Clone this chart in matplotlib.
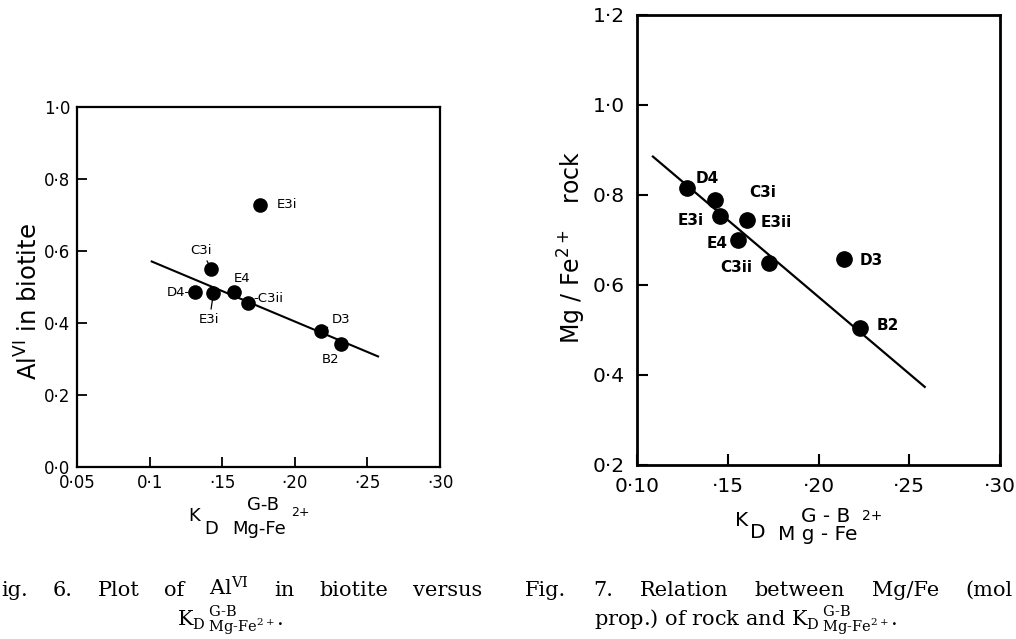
import matplotlib
matplotlib.use('Agg')
import matplotlib.pyplot as plt

# ---------------- data: Fig. 6 ----------------
f6_labels = ['E3i', 'C3i', 'D4', 'E3i', 'E4', 'C3ii', 'D3', 'B2']
f6_kd = [0.176, 0.1426, 0.131, 0.144, 0.158, 0.168, 0.218, 0.2315]
f6_alvi = [0.727, 0.549, 0.486, 0.484, 0.485, 0.456, 0.378, 0.343]
f6_line_kd = [0.1008, 0.258]
f6_line_alvi = [0.572, 0.306]
f6_xticks = [0.05, 0.10, 0.15, 0.20, 0.25, 0.30]
f6_xticklabels = ['0·05', '0·1', '·15', '·20', '·25', '·30']
f6_yticks = [0.0, 0.2, 0.4, 0.6, 0.8, 1.0]
f6_yticklabels = ['0·0', '0·2', '0·4', '0·6', '0·8', '1·0']

# ---------------- data: Fig. 7 ----------------
f7_labels = ['D4', 'C3i', 'E3i', 'E3ii', 'E4', 'C3ii', 'D3', 'B2']
f7_kd = [0.1275, 0.1431, 0.1459, 0.1606, 0.1556, 0.1725, 0.2143, 0.2226]
f7_mgfe = [0.815, 0.789, 0.753, 0.744, 0.701, 0.648, 0.657, 0.504]
f7_line_kd = [0.1083, 0.259]
f7_line_mgfe = [0.887, 0.372]
f7_xticks = [0.10, 0.15, 0.20, 0.25, 0.30]
f7_xticklabels = ['0·10', '·15', '·20', '·25', '·30']
f7_yticks = [0.2, 0.4, 0.6, 0.8, 1.0, 1.2]
f7_yticklabels = ['0·2', '0·4', '0·6', '0·8', '1·0', '1·2']

W, H = 1016, 639
fig = plt.figure(figsize=(W / 100, H / 100), dpi=100)
fig.patch.set_facecolor('white')


def fx(px):
    return px / W


def fy(py):
    return 1 - py / H


def ftext(x, y, s, **kw):
    return fig.text(fx(x), fy(y), s, **kw)


# ---------------- left axes (Fig. 6) ----------------
ax1 = fig.add_axes([fx(77), fy(467), fx(440) - fx(77), fy(107) - fy(467)])
ax1.plot(f6_line_kd, f6_line_alvi, color='black', lw=1.5, solid_capstyle='butt')
ax1.plot(f6_kd, f6_alvi, 'o', color='black', ms=9.5, zorder=3)
ax1.set_xlim(0.05, 0.30)
ax1.set_ylim(0.0, 1.0)
ax1.set_xticks(f6_xticks)
ax1.set_xticklabels(f6_xticklabels)
ax1.set_yticks(f6_yticks)
ax1.set_yticklabels(f6_yticklabels)
ax1.tick_params(direction='in', length=7, width=1.3, labelsize=12, pad=5)
for sp in ax1.spines.values():
    sp.set_linewidth(1.6)

# label placement: (dx, dy) pixel offsets, ha, leader line
f6_offsets = [(27, 1, 'center', False), (-10, 19, 'center', True),
              (-5, 0, 'right', False), (-4, -27, 'center', True),
              (8, 14, 'center', False), (5, 4, 'left', False),
              (20, 11, 'center', True), (-10, -16, 'center', False)]
f6_text = ['E3i', 'C3i', 'D4-', 'E3i', 'E4', '-C3ii', 'D3', 'B2']
for x, y, t, (dx, dy, ha, lead) in zip(f6_kd, f6_alvi, f6_text, f6_offsets):
    kw = {}
    if lead:
        kw['arrowprops'] = dict(arrowstyle='-', lw=0.9, color='black',
                                shrinkA=1, shrinkB=5)
    ax1.annotate(t, (x, y), xytext=(dx, dy), textcoords='offset pixels',
                 ha=ha, va='center', fontsize=9.5, **kw)

ftext(29, 302, r'Al$^{\rm VI}$ in biotite', rotation=90, ha='center',
      va='center', fontsize=17.5)

# x label (left)
ftext(194, 516, 'K', ha='center', va='center', fontsize=13)
ftext(204, 529, 'D', ha='left', va='center', fontsize=13)
ftext(263, 505, 'G-B', ha='center', va='center', fontsize=13)
ftext(232, 529, 'Mg-Fe', ha='left', va='center', fontsize=13)
ftext(291, 513, '2+', ha='left', va='center', fontsize=9)

# ---------------- right axes (Fig. 7) ----------------
ax2 = fig.add_axes([fx(637), fy(465), fx(1000) - fx(637), fy(15) - fy(465)])
ax2.plot(f7_line_kd, f7_line_mgfe, color='black', lw=1.6, solid_capstyle='butt')
ax2.plot(f7_kd, f7_mgfe, 'o', color='black', ms=11, zorder=3)
ax2.set_xlim(0.10, 0.30)
ax2.set_ylim(0.2, 1.2)
ax2.set_xticks(f7_xticks)
ax2.set_xticklabels(f7_xticklabels)
ax2.set_yticks(f7_yticks)
ax2.set_yticklabels(f7_yticklabels)
ax2.tick_params(direction='in', length=8, width=1.5, labelsize=14.5, pad=9)
for sp in ax2.spines.values():
    sp.set_linewidth(2.0)

f7_offsets = [(20, 10), (47, 7), (-30, -4), (29, -2), (-21, -4), (-32, -4),
              (27, -1), (28, 3)]
for x, y, t, (dx, dy) in zip(f7_kd, f7_mgfe, f7_labels, f7_offsets):
    ax2.annotate(t, (x, y), xytext=(dx, dy), textcoords='offset pixels',
                 ha='center', va='center', fontsize=11, fontweight='bold')

ftext(572, 247, r'Mg / Fe$^{2+}$   rock', rotation=90, ha='center',
      va='center', fontsize=17)

# x label (right)
ftext(742, 520, 'K', ha='center', va='center', fontsize=14.5)
ftext(750, 533, 'D', ha='left', va='center', fontsize=14.5)
ftext(826, 517, 'G - B', ha='center', va='center', fontsize=14.5)
ftext(778, 534, 'M g - Fe', ha='left', va='center', fontsize=14.5)
ftext(862, 516, '2+', ha='left', va='center', fontsize=10)

# ---------------- captions ----------------
cap = dict(fontfamily='DejaVu Serif', math_fontfamily='dejavuserif',
           fontsize=15, va='baseline')
renderer = fig.canvas.get_renderer()


def justify(words, x0, x1, base):
    arts = [ftext(0, base, w, ha='left', **cap) for w in words]
    widths = [a.get_window_extent(renderer).width for a in arts]
    gap = (x1 - x0 - sum(widths)) / (len(words) - 1)
    x = x0
    for a, w in zip(arts, widths):
        a.set_x(fx(x))
        x += w + gap


justify(['ig.', '6.', 'Plot', 'of', r'Al$^{\rm VI}$', 'in', 'biotite',
         'versus'], 1, 482, 596)
justify(['Fig.', '7.', 'Relation', 'between', 'Mg/Fe', '(mol'],
        525, 1013, 596)

kexpr = r'K$_{\rm D}\,{}^{\rm G‐B}_{\rm Mg‐Fe^{2+}}$.'
ftext(230, 627, kexpr, ha='center', **cap)
ftext(746, 627, 'prop.) of rock and ' + kexpr, ha='center', **cap)

fig.savefig('out.png', dpi=100, facecolor='white')
